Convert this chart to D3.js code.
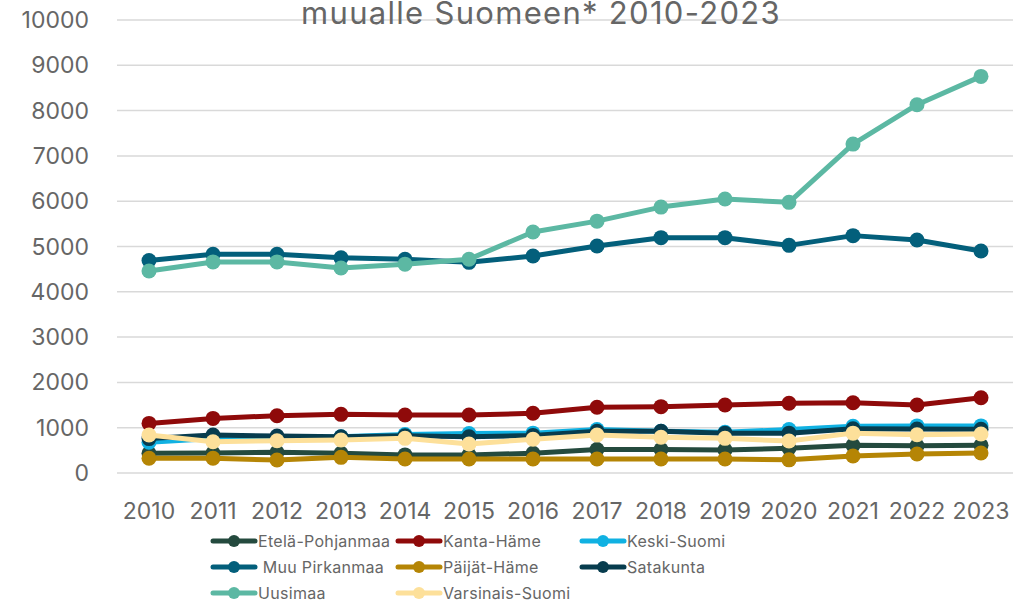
<!DOCTYPE html>
<html>
<head>
<meta charset="utf-8">
<script src="https://cdn.jsdelivr.net/npm/d3@7"></script>
<style>
    body { margin: 0; background: #fff; }
    svg { display: block; font-family: Inter, "Open Sans", sans-serif; }
</style>
</head>
<body>
<div id="chart"></div>
<script>
// * * * data * * *
const years = [2010, 2011, 2012, 2013, 2014, 2015, 2016, 2017, 2018, 2019, 2020, 2021, 2022, 2023];
const yTicks = [0, 1000, 2000, 3000, 4000, 5000, 6000, 7000, 8000, 9000, 10000];

const etelaPohjanmaa = [435, 440, 457, 435, 400, 400, 435, 520, 520, 510, 545, 610, 600, 610];
const kantaHame      = [1095, 1205, 1265, 1295, 1280, 1280, 1318, 1450, 1465, 1500, 1540, 1550, 1500, 1660];
const keskiSuomi     = [680, 760, 760, 800, 850, 870, 880, 960, 920, 900, 960, 1030, 1040, 1040];
const muuPirkanmaa   = [4690, 4830, 4830, 4750, 4720, 4650, 4790, 5010, 5195, 5195, 5025, 5240, 5145, 4900];
const paijatHame     = [325, 325, 287, 346, 310, 310, 310, 310, 310, 310, 290, 375, 420, 440];
const satakunta      = [760, 840, 815, 800, 820, 800, 830, 920, 920, 880, 880, 975, 970, 965];
const uusimaa        = [4460, 4660, 4660, 4525, 4610, 4720, 5320, 5560, 5870, 6050, 5975, 7260, 8130, 8755];
const varsinaisSuomi = [840, 690, 713, 730, 765, 640, 745, 840, 790, 765, 705, 880, 845, 860];

const seriesNames = ["Etelä-Pohjanmaa", "Kanta-Häme", "Keski-Suomi", " Muu Pirkanmaa",
    "Päijät-Häme", "Satakunta", "Uusimaa", "Varsinais-Suomi"];
const seriesValues = [etelaPohjanmaa, kantaHame, keskiSuomi, muuPirkanmaa,
    paijatHame, satakunta, uusimaa, varsinaisSuomi];
const seriesColors = ["#244a3e", "#8f0a0a", "#10b1e2", "#035f7b",
    "#b58505", "#073c4e", "#5cb8a3", "#fde09a"];

const titleText = "muualle Suomeen* 2010-2023";

// * * * chart * * *
const width = 1028, height = 603;
const plot = {left: 117, right: 1013, top: 20, bottom: 473};

const svg = d3.select("#chart").append("svg")
    .attr("width", width)
    .attr("height", height);

const x = d3.scaleBand()
    .domain(years)
    .range([plot.left, plot.right]);

const y = d3.scaleLinear()
    .domain([0, 10000])
    .range([plot.bottom, plot.top]);

// gridlines
svg.append("g")
    .selectAll("line")
    .data(yTicks)
    .join("line")
    .attr("x1", plot.left)
    .attr("x2", plot.right)
    .attr("y1", d => y(d))
    .attr("y2", d => y(d))
    .attr("stroke", "#d9d9d9")
    .attr("stroke-width", 1.5);

// y axis labels
svg.append("g")
    .selectAll("text")
    .data(yTicks)
    .join("text")
    .attr("x", 89)
    .attr("y", d => y(d))
    .attr("dy", "0.35em")
    .attr("text-anchor", "end")
    .attr("font-size", 23)
    .attr("fill", "#666")
    .text(d => d);

// x axis labels
svg.append("g")
    .selectAll("text")
    .data(years)
    .join("text")
    .attr("x", d => x(d) + x.bandwidth() / 2)
    .attr("y", 519)
    .attr("text-anchor", "middle")
    .attr("font-size", 23)
    .attr("fill", "#666")
    .text(d => d);

// title - the top of it is cut off at the edge in the original too
svg.append("text")
    .attr("x", 541)
    .attr("y", 24)
    .attr("text-anchor", "middle")
    .attr("font-size", 31)
    .attr("letter-spacing", 1.3)
    .attr("fill", "#666")
    .text(titleText);

// lines + markers
let line = d3.line()
    .x((d, i) => x(years[i]) + x.bandwidth() / 2)
    .y(d => y(d));

seriesValues.forEach((vals, s) => {
    let g = svg.append("g");
    g.append("path")
        .attr("d", line(vals))
        .attr("fill", "none")
        .attr("stroke", seriesColors[s])
        .attr("stroke-width", 5)
        .attr("stroke-linejoin", "round");
    g.selectAll("circle")
        .data(vals)
        .join("circle")
        .attr("cx", (d, i) => x(years[i]) + x.bandwidth() / 2)
        .attr("cy", d => y(d))
        .attr("r", 7.5)
        .attr("fill", seriesColors[s]);
});

// legend
const legendCols = [213, 398, 582];
const legendRows = [541, 567, 593];

let legend = svg.append("g")
    .selectAll("g")
    .data(seriesNames)
    .join("g")
    .attr("transform", (d, i) => `translate(${legendCols[i % 3]}, ${legendRows[Math.floor(i / 3)]})`);

legend.append("line")
    .attr("x1", 0)
    .attr("x2", 42)
    .attr("stroke", (d, i) => seriesColors[i])
    .attr("stroke-width", 5)
    .attr("stroke-linecap", "round");

legend.append("circle")
    .attr("cx", 21)
    .attr("r", 6)
    .attr("fill", (d, i) => seriesColors[i]);

legend.append("text")
    .attr("x", 45)
    .attr("dy", "0.35em")
    .attr("font-size", 16)
    .attr("letter-spacing", 0.3)
    .attr("fill", "#666")
    .style("white-space", "pre")
    .text(d => d);
</script>
</body>
</html>
